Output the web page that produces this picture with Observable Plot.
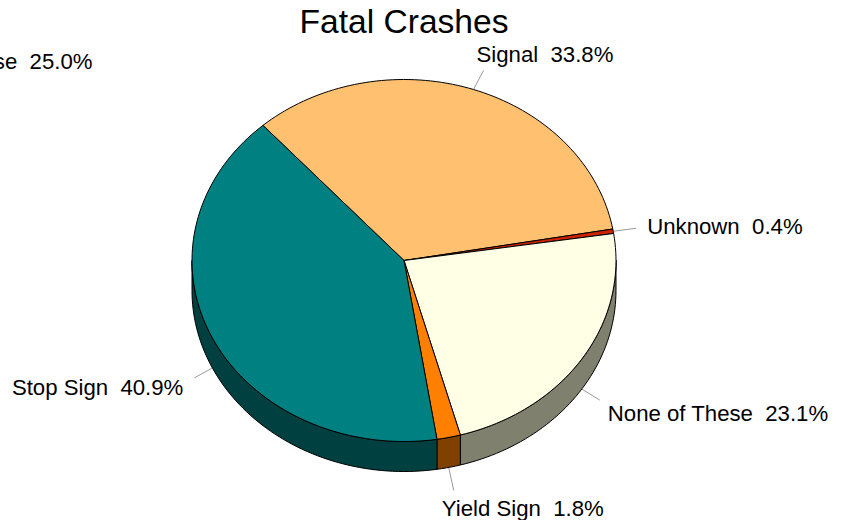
<!DOCTYPE html>
<html>
<head>
<meta charset="utf-8">
<style>html,body{margin:0;padding:0;background:#fff}</style>
<script src="https://cdn.jsdelivr.net/npm/d3@7"></script>
<script src="https://cdn.jsdelivr.net/npm/@observablehq/plot@0.6"></script>
</head>
<body>
<div id="chart"></div>
<script>
const title = "Fatal Crashes";
const categories = ["Signal", "Unknown", "None of These", "Yield Sign", "Stop Sign"];
const shares = [33.8, 0.4, 23.1, 1.8, 40.9];
const strayLabel = "None of These  25.0%";

// styles
const topColors = ["#FFC06F", "#CC2200", "#FFFFE5", "#FF8000", "#008080"];
const wallColors = ["#805F37", "#661900", "#80806F", "#804000", "#004040"];
// layout (pixels)
const cx = 403.5, cy = 260, rx = 212, ry = 181, depthPx = 30, startDeg = -41.7;
const labelOffsets = [ // leader end and label anchor, relative to the rim point
  {lx: 10, ly: -19, tx: 3, ty: -35, anchor: "start"},
  {lx: 23, ly: -3, tx: 34, ty: -4, anchor: "start"},
  {lx: 18, ly: 11, tx: 26, ty: 25, anchor: "start"},
  {lx: 5, ly: 23, tx: -7, ty: 41, anchor: "start"},
  {lx: -18, ly: 10, tx: -29, ty: 20, anchor: "end"}
];

const depth = depthPx / ry;
const rad = d => d * Math.PI / 180;
const rim = t => [Math.sin(rad(t)), Math.cos(rad(t))];
const sweep = (a, b) => {
  const n = Math.max(2, Math.ceil(Math.abs(b - a) / 1.5));
  return d3.range(n + 1).map(i => a + (b - a) * i / n);
};

let acc = startDeg;
const slices = categories.map((name, i) => {
  const a = acc, b = acc + shares[i] * 3.6;
  acc = b;
  return {name, share: shares[i], a, b, mid: (a + b) / 2, i};
});

const topPts = [], wallPts = [];
slices.forEach(s => {
  const push = (x, y) => topPts.push({x, y, z: s.name, c: topColors[s.i]});
  push(0, 0);
  sweep(s.a, s.b).forEach(t => push(...rim(t)));
  push(0, 0);
  const a = Math.max(s.a, 90), b = Math.min(s.b, 270);
  if (b > a) {
    const ts = sweep(a, b);
    const poly = [
      ...ts.map(t => { const [x, y] = rim(t); return {x, y}; }),
      ...ts.slice().reverse().map(t => { const [x, y] = rim(t); return {x, y: y - depth}; })
    ];
    poly.push(poly[0]);
    poly.forEach(p => wallPts.push({...p, z: s.name, c: wallColors[s.i]}));
  }
});

const labels = slices.map(s => {
  const o = labelOffsets[s.i];
  const [x, y0] = rim(s.mid);
  const front = s.mid > 90 && s.mid < 270;
  const y = front ? y0 - depth : y0;
  return {
    x, y,
    x2: x + o.lx / rx, y2: y - o.ly / ry,
    tx: x + o.tx / rx, ty: y - o.ty / ry,
    anchor: o.anchor,
    text: `${s.name}  ${s.share.toFixed(1)}%`
  };
});

const fontFamily = "'Liberation Sans', Arial, sans-serif";
const chart = Plot.plot({
  width: 848, height: 520, margin: 0,
  style: {background: "#fff", fontFamily, whiteSpace: "pre"},
  x: {domain: [-1, 1], range: [cx - rx, cx + rx], axis: null},
  y: {domain: [-1, 1], range: [cy + ry, cy - ry], axis: null},
  color: {type: "identity"},
  marks: [
    Plot.link(labels, {x1: "x", y1: "y", x2: "x2", y2: "y2", stroke: "#999", strokeWidth: 1}),
    Plot.line(wallPts, {x: "x", y: "y", z: "z", fill: "c", stroke: "#000", strokeWidth: 1, curve: "linear"}),
    Plot.line(topPts, {x: "x", y: "y", z: "z", fill: "c", stroke: "#000", strokeWidth: 1, curve: "linear"}),
    Plot.text(labels.filter(d => d.anchor === "start"), {x: "tx", y: "ty", text: "text", textAnchor: "start", fontSize: 22.2, fill: "#000"}),
    Plot.text(labels.filter(d => d.anchor === "end"), {x: "tx", y: "ty", text: "text", textAnchor: "end", fontSize: 22.2, fill: "#000"}),
    Plot.text([strayLabel], {x: () => (92 - cx) / rx, y: () => (cy - 61) / ry, text: d => d, textAnchor: "end", fontSize: 22.2, fill: "#000"}),
    Plot.text([title], {x: () => 0, y: () => (cy - 22) / ry, text: d => d, textAnchor: "middle", fontSize: 33.6, fill: "#000"})
  ]
});
document.getElementById("chart").append(chart);
</script>
</body>
</html>
